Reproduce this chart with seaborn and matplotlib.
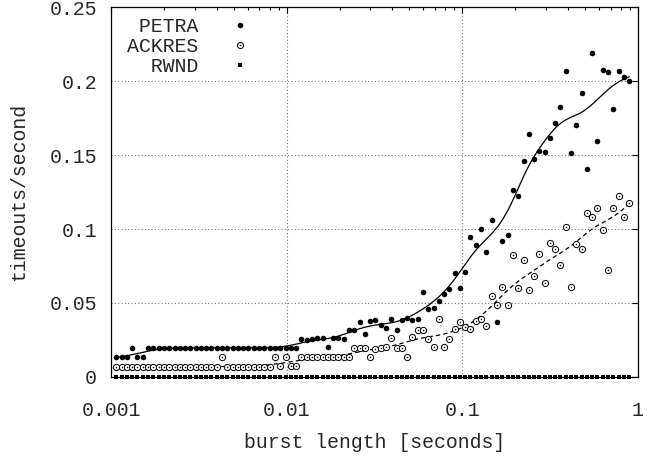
import numpy as np
import matplotlib
matplotlib.use("Agg")
import matplotlib.pyplot as plt
import seaborn as sns
from matplotlib.lines import Line2D
from matplotlib.legend_handler import HandlerTuple
from matplotlib.ticker import LogLocator, NullFormatter, FixedLocator, FixedFormatter

# ---- data ----
burst_ms = [1.07, 1.15, 1.23, 1.32, 1.41, 1.52, 1.62, 1.74, 1.87, 2.00,
            2.14, 2.30, 2.46, 2.64, 2.83, 3.03, 3.25, 3.48, 3.73, 4.00,
            4.29, 4.59, 4.92, 5.28, 5.66, 6.06, 6.50, 6.96, 7.46, 8.00,
            8.57, 9.19, 9.85, 10.6, 11.3, 12.1, 13.0, 13.9, 14.9, 16.0,
            17.1, 18.4, 19.7, 21.1, 22.6, 24.3, 26.0, 27.9, 29.9, 32.0,
            34.3, 36.8, 39.4, 42.2, 45.3, 48.5, 52.0, 55.7, 59.7, 64.0,
            68.6, 73.5, 78.8, 84.4, 90.5, 97.0, 104, 111, 119, 128,
            137, 147, 158, 169, 181, 194, 208, 223, 239, 256,
            274, 294, 315, 338, 362, 388, 416, 446, 478, 512,
            549, 588, 630, 676, 724, 776, 832, 891]

petra = [0.0133, 0.0133, 0.0133, 0.0198, 0.0133, 0.0133, 0.0197, 0.0197, 0.0197, 0.0197,
         0.0197, 0.0197, 0.0197, 0.0197, 0.0197, 0.0197, 0.0197, 0.0197, 0.0197, 0.0197,
         0.0197, 0.0197, 0.0197, 0.0197, 0.0197, 0.0197, 0.0197, 0.0197, 0.0197, 0.0195,
         0.0195, 0.0197, 0.0197, 0.0197, 0.0197, 0.0257, 0.0250, 0.0260, 0.0265, 0.0265,
         0.0200, 0.0265, 0.0265, 0.0260, 0.0318, 0.0318, 0.0374, 0.0288, 0.0378, 0.0385,
         0.0350, 0.0330, 0.0390, 0.0318, 0.0387, 0.0397, 0.0383, 0.0390, 0.0577, 0.0457,
         0.0468, 0.0513, 0.0560, 0.0593, 0.0705, 0.0600, 0.0707, 0.0944, 0.0890, 0.0998,
         0.0843, 0.1060, 0.0374, 0.0920, 0.0957, 0.1264, 0.1223, 0.1457, 0.1644, 0.1470,
         0.1530, 0.1520, 0.1617, 0.1716, 0.1826, 0.2070, 0.1516, 0.1700, 0.1917, 0.1405,
         0.2187, 0.1597, 0.2076, 0.2060, 0.1810, 0.2070, 0.2030, 0.2000]

ackres = [0.0070, 0.0070, 0.0070, 0.0070, 0.0070, 0.0070, 0.0070, 0.0070, 0.0070, 0.0070,
          0.0070, 0.0070, 0.0070, 0.0070, 0.0070, 0.0070, 0.0070, 0.0070, 0.0070, 0.0070,
          0.0133, 0.0070, 0.0070, 0.0070, 0.0070, 0.0070, 0.0070, 0.0070, 0.0070, 0.0070,
          0.0133, 0.0075, 0.0133, 0.0075, 0.0075, 0.0133, 0.0133, 0.0133, 0.0133, 0.0133,
          0.0133, 0.0133, 0.0133, 0.0133, 0.0133, 0.0194, 0.0194, 0.0194, 0.0133, 0.0190,
          0.0194, 0.0200, 0.0266, 0.0198, 0.0198, 0.0137, 0.0268, 0.0318, 0.0318, 0.0260,
          0.0200, 0.0390, 0.0200, 0.0257, 0.0322, 0.0370, 0.0336, 0.0322, 0.0376, 0.0390,
          0.0347, 0.0547, 0.0489, 0.0606, 0.0486, 0.0822, 0.0603, 0.0790, 0.0588, 0.0682,
          0.0830, 0.0635, 0.0907, 0.0865, 0.0759, 0.1014, 0.0606, 0.0900, 0.0865, 0.1106,
          0.1083, 0.1140, 0.0993, 0.0723, 0.1140, 0.1223, 0.1083, 0.1173]

rwnd = [0.0] * len(burst_ms)

series_names = ["PETRA", "ACKRES", "RWND"]
x_ticks = [0.001, 0.01, 0.1, 1]
x_tick_labels = ["0.001", "0.01", "0.1", "1"]
y_ticks = [0, 0.05, 0.1, 0.15, 0.2, 0.25]
y_tick_labels = ["0", "0.05", "0.1", "0.15", "0.2", "0.25"]


def _fit(lx, ys, rw, g, h):
    w = np.exp(-0.5 * ((lx - g) / h) ** 2) * rw
    W = w.sum()
    mx = (w * lx).sum() / W
    my = (w * ys).sum() / W
    sxx = (w * (lx - mx) ** 2).sum()
    sxy = (w * (lx - mx) * (ys - my)).sum()
    b = sxy / sxx if sxx > 0 else 0.0
    return my + b * (g - mx)


def robust_smooth(xs, ys, h=0.08, n=400, rel=0.7):
    """Local-linear smoothing in log10(x), one relative-bisquare robustness pass."""
    lx = np.log10(np.asarray(xs, float))
    ys = np.asarray(ys, float)
    rw = np.ones_like(ys)
    fitted = np.array([_fit(lx, ys, rw, g, h) for g in lx])
    u = (ys - fitted) / (rel * np.abs(fitted) + 1e-3)
    rw = np.where(np.abs(u) < 1, (1 - u ** 2) ** 2, 0.0)
    grid = np.linspace(lx[0], lx[-1], n)
    return 10 ** grid, np.array([_fit(lx, ys, rw, g, h) for g in grid])


sns.set_theme(style="white")
plt.rcParams["font.family"] = ["Liberation Mono", "DejaVu Sans Mono"]
FS = 14.3

fig = plt.figure(figsize=(6.47, 4.59), dpi=100)
ax = fig.add_axes([111 / 647, 1 - 377 / 459, (638 - 111) / 647, (377 - 7) / 459])

x_sec = np.array(burst_ms) / 1000.0

# smooth curves
sx, sy = robust_smooth(x_sec, petra, h=0.085)
sns.lineplot(x=sx, y=sy, ax=ax, color="black", lw=0.9, estimator=None, sort=False, zorder=4)
ax_, ay_ = robust_smooth(x_sec, ackres, h=0.09)
sns.lineplot(x=ax_, y=ay_, ax=ax, color="black", lw=0.9, estimator=None, sort=False,
             linestyle=(0, (3.5, 2.5)), zorder=4)

# points
sns.scatterplot(x=x_sec, y=petra, ax=ax, color="black", marker="o", s=16, linewidth=0, zorder=5)
sns.scatterplot(x=x_sec, y=ackres, ax=ax, marker="o", s=20, facecolor="white",
                edgecolor="black", linewidth=0.7, zorder=5)
sns.scatterplot(x=x_sec, y=ackres, ax=ax, color="black", marker="o", s=1.2, linewidth=0, zorder=6)
sns.scatterplot(x=x_sec, y=rwnd, ax=ax, color="black", marker="s", s=6, linewidth=0, zorder=5,
                clip_on=False)

ax.set_xscale("log")
ax.set_xlim(0.001, 1)
ax.set_ylim(0, 0.25)

ax.xaxis.set_major_locator(FixedLocator(x_ticks))
ax.xaxis.set_major_formatter(FixedFormatter(x_tick_labels))
ax.xaxis.set_minor_locator(LogLocator(base=10, subs=np.arange(2, 10)))
ax.xaxis.set_minor_formatter(NullFormatter())
ax.yaxis.set_major_locator(FixedLocator(y_ticks))
ax.yaxis.set_major_formatter(FixedFormatter(y_tick_labels))

ax.grid(True, which="major", linestyle=(0, (1, 2)), color="#777777", lw=0.8)
ax.tick_params(which="both", direction="in", top=True, right=True, color="black",
               labelsize=FS)
ax.tick_params(which="major", length=4.5, width=0.8)
ax.tick_params(which="minor", length=2.5, width=0.8)
ax.tick_params(axis="x", which="major", pad=17)
ax.tick_params(axis="y", which="major", pad=10)
for sp in ax.spines.values():
    sp.set_color("black")
    sp.set_linewidth(0.9)

ax.set_xlabel("burst length [seconds]", fontsize=FS)
ax.set_ylabel("timeouts/second", fontsize=FS)
ax.xaxis.set_label_coords(0.5, -0.15)
ax.yaxis.set_label_coords(-0.158, 0.5)

# legend (text then marker, right-aligned labels via monospace padding)
width = max(len(n) for n in series_names)
labels = [n.rjust(width) for n in series_names]
h_petra = Line2D([], [], ls="", marker="o", ms=4.0, mfc="black", mec="black", mew=0)
h_ack = (Line2D([], [], ls="", marker="o", ms=4.4, mfc="white", mec="black", mew=0.7),
         Line2D([], [], ls="", marker="o", ms=1.1, mfc="black", mec="black", mew=0))
h_rw = Line2D([], [], ls="", marker="s", ms=2.5, mfc="black", mec="black", mew=0)
leg = ax.legend([h_petra, h_ack, h_rw], labels, loc="upper left",
                bbox_to_anchor=(0.0, 1.015), frameon=False, markerfirst=False,
                handlelength=1.0, handletextpad=1.6, labelspacing=0.05,
                borderpad=0.3, fontsize=FS,
                handler_map={tuple: HandlerTuple(ndivide=1, pad=0)})

fig.savefig("out.png", dpi=100)
